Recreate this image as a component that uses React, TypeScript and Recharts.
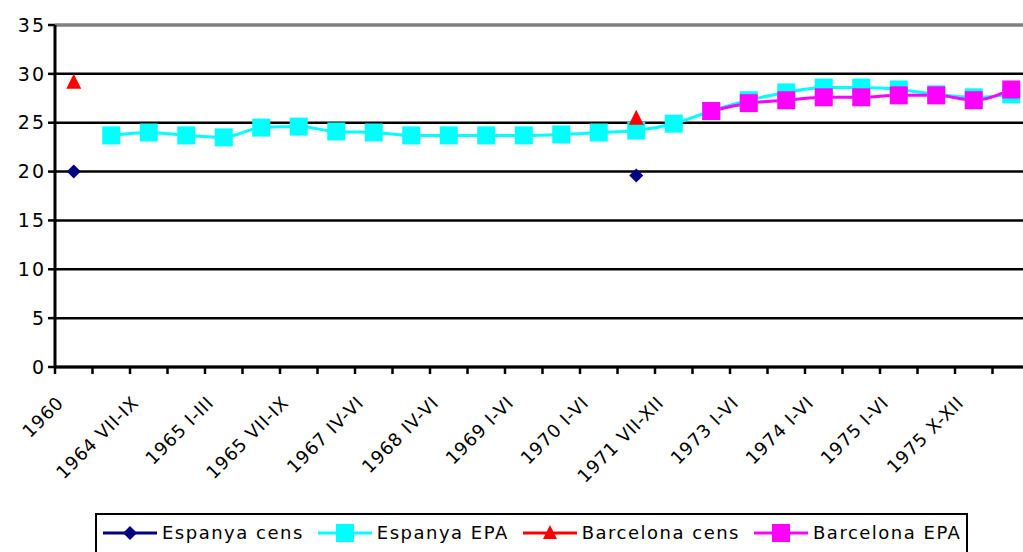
import { LineChart, Line, XAxis, YAxis, CartesianGrid, ReferenceLine } from "recharts"

const categories = [
  "1960",
  "1964 IV-VI",
  "1964 VII-IX",
  "1964 X-XII",
  "1965 I-III",
  "1965 IV-VI",
  "1965 VII-IX",
  "1966 I-VI",
  "1967 IV-VI",
  "1967 X-XII",
  "1968 IV-VI",
  "1968 X-XII",
  "1969 I-VI",
  "1969 VII-XII",
  "1970 I-VI",
  "1970",
  "1971 VII-XII",
  "1972 I-VI",
  "1973 I-VI",
  "1973 VII-XII",
  "1974 I-VI",
  "1974 VII-XII",
  "1975 I-VI",
  "1975 VII-IX",
  "1975 X-XII",
  "1976 I-III",
]

const espanyaCens = [20.0, null, null, null, null, null, null, null, null, null, null, null, null, null, null, 19.6, null, null, null, null, null, null, null, null, null, null]
const barcelonaCens = [29.2, null, null, null, null, null, null, null, null, null, null, null, null, null, null, 25.5, null, null, null, null, null, null, null, null, null, null]
const espanyaEPA = [null, 23.7, 24.0, 23.7, 23.5, 24.5, 24.6, 24.1, 24.0, 23.7, 23.7, 23.7, 23.7, 23.8, 24.0, 24.2, 24.9, 26.2, 27.3, 28.1, 28.6, 28.6, 28.4, 27.9, 27.6, 27.9]
const barcelonaEPA = [null, null, null, null, null, null, null, null, null, null, null, null, null, null, null, null, null, 26.2, 27.0, 27.3, 27.6, 27.6, 27.8, 27.8, 27.3, 28.4]

const yTicks = [0, 5, 10, 15, 20, 25, 30, 35]

const CHART_W = 1031
const CHART_H = 552
const Y_AXIS_W = 55
const MARGIN_R = 1
const N = categories.length
const STEP = (CHART_W - Y_AXIS_W - MARGIN_R) / N
const FONT = "'DejaVu Sans', sans-serif"

const data = categories.map((name, i) => ({
  name,
  espanyaCens: espanyaCens[i],
  espanyaEPA: espanyaEPA[i],
  barcelonaCens: barcelonaCens[i],
  barcelonaEPA: barcelonaEPA[i],
}))

const squareDot = (color: string, size: number) => (props: any) => {
  const { cx, cy, value, index } = props
  if (value == null || cx == null || cy == null) return <g key={"s" + index} />
  return <rect key={"s" + index} x={cx - size / 2} y={cy - size / 2} width={size} height={size} fill={color} />
}

const diamondDot = (props: any) => {
  const { cx, cy, value, index } = props
  if (value == null || cx == null || cy == null) return <g key={"d" + index} />
  const r = 7
  return <polygon key={"d" + index} points={`${cx},${cy - r} ${cx + r},${cy} ${cx},${cy + r} ${cx - r},${cy}`} fill="#000080" />
}

const triangleDot = (props: any) => {
  const { cx, cy, value, index } = props
  if (value == null || cx == null || cy == null) return <g key={"t" + index} />
  return <polygon key={"t" + index} points={`${cx},${cy - 8} ${cx + 7.5},${cy + 7} ${cx - 7.5},${cy + 7}`} fill="#ff0000" />
}

const XTick = (props: any) => {
  const { x, y, payload } = props
  const i = payload.index
  return (
    <g>
      <line x1={x - STEP / 2} x2={x - STEP / 2} y1={y} y2={y + 7} stroke="#000" strokeWidth={2.5} />
      {i === N - 1 && <line x1={x + STEP / 2} x2={x + STEP / 2} y1={y} y2={y + 7} stroke="#000" strokeWidth={2.5} />}
      {i % 2 === 0 && (
        <text
          transform={`translate(${x - 9},${y + 37}) rotate(-45)`}
          textAnchor="end"
          fontFamily={FONT}
          fontSize={18}
          letterSpacing={0.8}
          fill="#000"
        >
          {payload.value}
        </text>
      )}
    </g>
  )
}

const legendItems = [
  { label: "Espanya cens", color: "#000080", marker: "diamond" },
  { label: "Espanya EPA", color: "#00ffff", marker: "square" },
  { label: "Barcelona cens", color: "#ff0000", marker: "triangle" },
  { label: "Barcelona EPA", color: "#ff00ff", marker: "square" },
]

const LegendIcon = ({ color, marker }: { color: string; marker: string }) => (
  <svg width={58} height={20}>
    <line x1={2} x2={56} y1={10} y2={10} stroke={color} strokeWidth={3} />
    {marker === "diamond" && <polygon points="29,3 36,10 29,17 22,10" fill={color} />}
    {marker === "square" && <rect x={20} y={1} width={18} height={18} fill={color} />}
    {marker === "triangle" && <polygon points="29,2 36,16 22,16" fill={color} />}
  </svg>
)

export default function App() {
  return (
    <div style={{ position: "absolute", left: 0, top: 0, width: 1023, height: 552, overflow: "hidden", background: "#fff" }}>
      <LineChart width={CHART_W} height={CHART_H} data={data} margin={{ top: 25, right: MARGIN_R, left: 0, bottom: 0 }}>
        <CartesianGrid vertical={false} stroke="#000" strokeWidth={2.5} />
        <ReferenceLine y={35} stroke="#808080" strokeWidth={3} />
        <XAxis
          dataKey="name"
          interval={0}
          height={185}
          padding={{ left: STEP / 2, right: STEP / 2 }}
          tick={<XTick />}
          tickLine={false}
          tickSize={0}
          tickMargin={0}
          axisLine={{ stroke: "#000", strokeWidth: 3 }}
        />
        <YAxis
          width={Y_AXIS_W}
          domain={[0, 35]}
          ticks={yTicks}
          interval={0}
          tickSize={7}
          tickMargin={2}
          tickLine={{ stroke: "#000", strokeWidth: 2.5 }}
          axisLine={{ stroke: "#000", strokeWidth: 3 }}
          tick={{ fill: "#000", fontSize: 19, fontFamily: FONT, letterSpacing: 2 }}
        />
        <Line dataKey="espanyaCens" stroke="#000080" strokeWidth={3} dot={diamondDot} activeDot={false} isAnimationActive={false} />
        <Line type="monotone" dataKey="espanyaEPA" stroke="#00ffff" strokeWidth={3} dot={squareDot("#00ffff", 18)} activeDot={false} isAnimationActive={false} />
        <Line dataKey="barcelonaCens" stroke="#ff0000" strokeWidth={3} dot={triangleDot} activeDot={false} isAnimationActive={false} />
        <Line type="monotone" dataKey="barcelonaEPA" stroke="#ff00ff" strokeWidth={3} dot={squareDot("#ff00ff", 18)} activeDot={false} isAnimationActive={false} />
      </LineChart>
      <div
        style={{
          position: "absolute",
          left: 95,
          top: 513,
          width: 873,
          height: 44,
          border: "2px solid #000",
          background: "#fff",
          display: "flex",
          alignItems: "flex-start",
          paddingTop: 8,
          paddingLeft: 4,
          boxSizing: "border-box",
          gap: 12,
          fontFamily: FONT,
          fontSize: 18,
          letterSpacing: 1.5,
        }}
      >
        {legendItems.map(item => (
          <div key={item.label} style={{ display: "flex", alignItems: "center", gap: 3, lineHeight: "20px" }}>
            <LegendIcon color={item.color} marker={item.marker} />
            <span>{item.label}</span>
          </div>
        ))}
      </div>
    </div>
  )
}
